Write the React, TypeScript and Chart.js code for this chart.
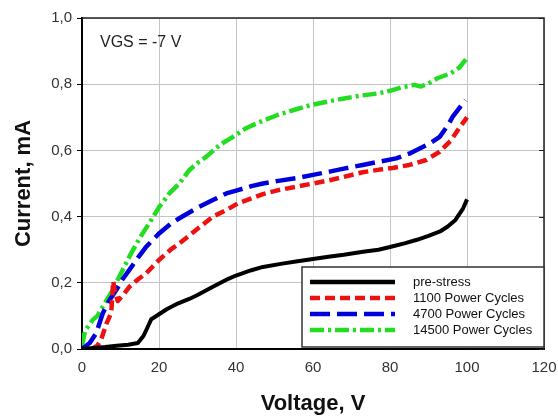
import React, { useEffect, useRef } from "react";
import { Chart, registerables } from "chart.js";

Chart.register(...registerables);

const xTicks = [0, 20, 40, 60, 80, 100, 120];
const yTicks = [0, 0.2, 0.4, 0.6, 0.8, 1.0];

const seriesNames = ["pre-stress", "1100 Power Cycles", "4700 Power Cycles", "14500 Power Cycles"];

const preStressV = [0, 3, 6, 9, 12, 14.5, 16, 17, 18, 20, 22, 25, 28, 30, 34, 38, 40, 44, 47, 52, 56, 60, 64, 68, 73, 77, 80, 84, 87, 90, 93, 95, 97, 99, 100];
const preStressI = [0, 0.003, 0.006, 0.01, 0.013, 0.018, 0.04, 0.065, 0.09, 0.105, 0.12, 0.138, 0.152, 0.163, 0.188, 0.212, 0.222, 0.238, 0.248, 0.258, 0.265, 0.272, 0.279, 0.285, 0.294, 0.3, 0.308, 0.32, 0.33, 0.342, 0.355, 0.37, 0.39, 0.425, 0.452];

const cycles1100V = [2.5, 4, 5, 6.3, 7.6, 8.1, 8.6, 9.3, 11, 12.3, 14.5, 16.7, 20, 23, 25.3, 29.7, 34, 37.5, 40.5, 44, 47, 51, 55.6, 60, 64.3, 68, 72.9, 77.3, 80.7, 85, 89.4, 92.9, 95.9, 98, 99.4, 100];
const cycles1100I = [0, 0.01, 0.03, 0.075, 0.11, 0.205, 0.17, 0.145, 0.168, 0.188, 0.21, 0.229, 0.269, 0.3, 0.319, 0.36, 0.4, 0.42, 0.44, 0.455, 0.468, 0.48, 0.49, 0.5, 0.51, 0.52, 0.534, 0.542, 0.547, 0.556, 0.571, 0.596, 0.631, 0.668, 0.69, 0.7];

const cycles4700V = [0, 2, 3.7, 5.4, 7, 8.9, 10.5, 12.3, 14.5, 16.7, 20.1, 23, 25.3, 29.7, 34, 37.5, 40.5, 44, 47, 51, 55.6, 60, 64.3, 68, 72.9, 77.3, 81.6, 85, 87.7, 90.5, 92.9, 95, 96.3, 98, 99.6];
const cycles4700I = [0, 0.018, 0.048, 0.108, 0.145, 0.178, 0.21, 0.239, 0.275, 0.309, 0.35, 0.378, 0.395, 0.425, 0.45, 0.47, 0.48, 0.492, 0.5, 0.508, 0.516, 0.526, 0.536, 0.545, 0.556, 0.566, 0.576, 0.59, 0.606, 0.622, 0.641, 0.675, 0.702, 0.728, 0.752];

const cycles14500V = [0, 0.8, 2.8, 4, 5.4, 6.5, 8, 9.3, 10.6, 12.3, 14, 15.8, 18, 20.1, 22.7, 25.3, 27.9, 30, 32.3, 35.7, 39.2, 42.6, 46, 50.8, 55, 59.4, 64, 68.1, 72, 76.8, 80, 82.8, 86.3, 88, 90, 92.3, 95.8, 98, 99.7];
const cycles14500I = [0.01, 0.055, 0.088, 0.1, 0.128, 0.15, 0.178, 0.21, 0.239, 0.279, 0.315, 0.35, 0.39, 0.43, 0.47, 0.5, 0.541, 0.562, 0.581, 0.616, 0.641, 0.667, 0.685, 0.707, 0.722, 0.737, 0.748, 0.757, 0.765, 0.772, 0.78, 0.79, 0.798, 0.793, 0.802, 0.818, 0.833, 0.85, 0.875];

const colors = ["#000000", "#ee1111", "#0000dd", "#22dd22"];
const dashes: number[][] = [[], [10, 5], [20, 7], [14, 4, 3, 4]];

const FONT = "'Liberation Sans', Arial, sans-serif";

const zip = (xs: number[], ys: number[]) => xs.map((x, i) => ({ x, y: ys[i] }));

const overlayPlugin = {
  id: "overlay",
  afterDraw(chart: any) {
    const ctx = chart.ctx as CanvasRenderingContext2D;
    const a = chart.chartArea;
    const ys = chart.scales.y;
    ctx.save();
    // top and right border
    ctx.strokeStyle = "#222";
    ctx.lineWidth = 1.5;
    ctx.beginPath();
    ctx.moveTo(a.left, a.top);
    ctx.lineTo(a.right, a.top);
    ctx.lineTo(a.right, a.bottom);
    ctx.stroke();
    // right inward ticks
    ctx.lineWidth = 1;
    yTicks.forEach((t) => {
      const py = Math.round(ys.getPixelForValue(t)) + 0.5;
      ctx.beginPath();
      ctx.moveTo(a.right - 5, py);
      ctx.lineTo(a.right, py);
      ctx.stroke();
    });
    // annotation
    ctx.fillStyle = "#222";
    ctx.font = `16px ${FONT}`;
    ctx.textAlign = "left";
    ctx.textBaseline = "middle";
    ctx.fillText("VGS = -7 V", 100, 43);
    // legend box
    const lx = 302, ly = 267, lw = a.right - 302, lh = 80;
    ctx.fillStyle = "#ffffff";
    ctx.fillRect(lx, ly, lw, lh);
    ctx.strokeStyle = "#333";
    ctx.lineWidth = 1.5;
    ctx.strokeRect(lx, ly, lw, lh);
    ctx.font = `13px ${FONT}`;
    seriesNames.forEach((name, i) => {
      const cy = 282 + i * 16;
      ctx.strokeStyle = colors[i];
      ctx.lineWidth = 4.5;
      ctx.setLineDash(dashes[i]);
      ctx.beginPath();
      ctx.moveTo(310, cy);
      ctx.lineTo(395, cy);
      ctx.stroke();
      ctx.setLineDash([]);
      ctx.fillStyle = "#111";
      ctx.fillText(name, 413, cy);
    });
    // axis titles
    ctx.fillStyle = "#111";
    ctx.font = `bold 22px ${FONT}`;
    ctx.textAlign = "center";
    ctx.fillText("Voltage, V", (a.left + a.right) / 2, 404);
    ctx.translate(24, (a.top + a.bottom) / 2);
    ctx.rotate(-Math.PI / 2);
    ctx.fillText("Current, mA", 0, 0);
    ctx.restore();
  },
};

export default function App() {
  const ref = useRef<HTMLCanvasElement | null>(null);
  useEffect(() => {
    document.body.style.margin = "0";
    if (!ref.current) return;
    const allV = [preStressV, cycles1100V, cycles4700V, cycles14500V];
    const allI = [preStressI, cycles1100I, cycles4700I, cycles14500I];
    const chart = new Chart(ref.current, {
      type: "line",
      data: {
        datasets: seriesNames.map((name, i) => ({
          label: name,
          data: zip(allV[i], allI[i]),
          borderColor: colors[i],
          backgroundColor: colors[i],
          borderWidth: i === 0 ? 4 : 4.5,
          borderDash: dashes[i],
          borderJoinStyle: "round",
          pointRadius: 0,
          tension: 0,
          fill: false,
        })),
      },
      options: {
        responsive: false,
        animation: false,
        devicePixelRatio: 1,
        layout: { padding: { top: 18, right: 14, left: 0, bottom: 0 } },
        plugins: { legend: { display: false }, tooltip: { enabled: false } },
        scales: {
          x: {
            type: "linear",
            min: 0,
            max: 120,
            afterBuildTicks: (s: any) => {
              s.ticks = xTicks.map((v) => ({ value: v }));
            },
            afterFit: (s: any) => {
              s.height = 67;
              s.paddingLeft = 0;
              s.paddingRight = 0;
            },
            ticks: { color: "#333", font: { family: FONT, size: 15 }, padding: 10 },
            grid: { color: "#c4c4c4", lineWidth: 1, drawTicks: false },
            border: { color: "#000", width: 2 },
          },
          y: {
            type: "linear",
            min: 0,
            max: 1,
            afterBuildTicks: (s: any) => {
              s.ticks = yTicks.map((v) => ({ value: v }));
            },
            afterFit: (s: any) => {
              s.width = 82;
              s.paddingTop = 0;
              s.paddingBottom = 0;
            },
            ticks: {
              color: "#333",
              font: { family: FONT, size: 15 },
              padding: 5,
              callback: (v: any) => Number(v).toFixed(1).replace(".", ","),
            },
            grid: { color: "#c4c4c4", lineWidth: 1, tickLength: 5, tickColor: "#000" },
            border: { color: "#000", width: 2 },
          },
        },
      },
      plugins: [overlayPlugin],
    });
    return () => chart.destroy();
  }, []);
  return (
    <div style={{ width: 558, height: 416, background: "#fff" }}>
      <canvas ref={ref} width={558} height={416} style={{ display: "block" }} />
    </div>
  );
}
